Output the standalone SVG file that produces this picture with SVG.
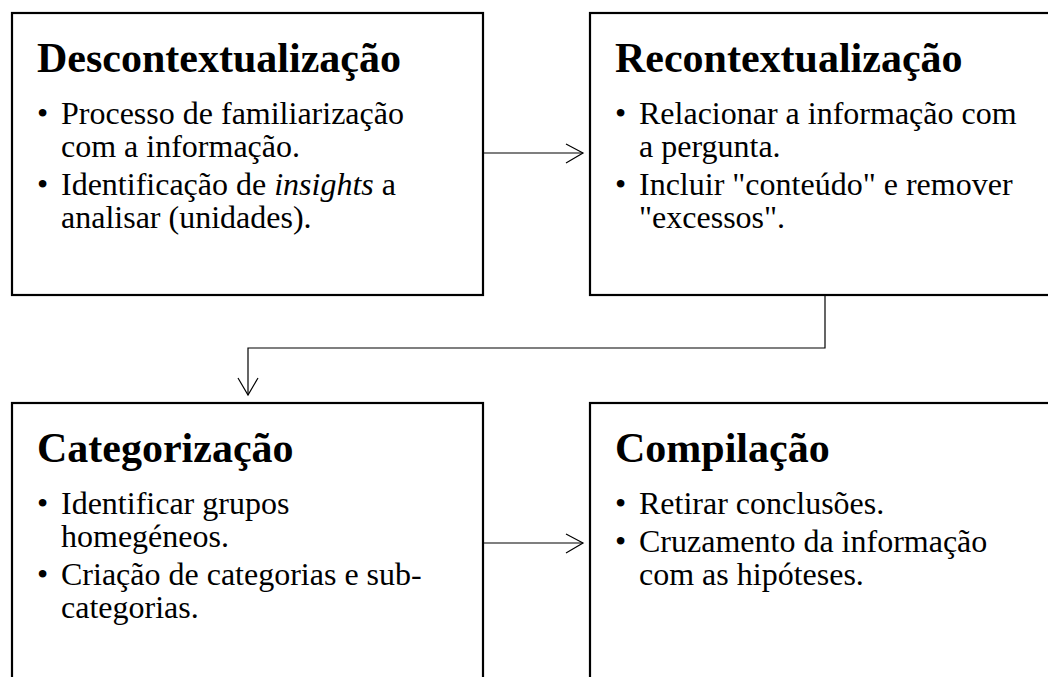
<svg xmlns="http://www.w3.org/2000/svg" width="1048" height="677" viewBox="0 0 1048 677">
<style>
.box{fill:#fff;stroke:#000;stroke-width:2.2}
.title{font-family:"Liberation Serif","Times New Roman",serif;font-weight:bold;font-size:42px;fill:#000}
.body{font-family:"Liberation Serif","Times New Roman",serif;font-size:32px;fill:#000}
.conn{fill:none;stroke:#000;stroke-width:1.2}
.head{fill:none;stroke:#000;stroke-width:1.2}
</style>
<rect width="1048" height="677" fill="#fff"/>
<g id="descontextualizacao">
<rect class="box" x="12" y="13" width="471" height="282"/>
<text class="title" x="37" y="72">Descontextualização</text>
<text class="body"><tspan x="37" y="124">•</tspan><tspan x="61" y="124">Processo de familiarização</tspan><tspan x="61" y="157">com a informação.</tspan><tspan x="37" y="195">•</tspan><tspan x="61" y="195">Identificação de <tspan font-style="italic">insights</tspan> a</tspan><tspan x="61" y="228">analisar (unidades).</tspan></text>
</g>
<g id="recontextualizacao">
<rect class="box" x="590" y="13" width="520" height="282"/>
<text class="title" x="615" y="72">Recontextualização</text>
<text class="body"><tspan x="615" y="124">•</tspan><tspan x="639" y="124">Relacionar a informação com</tspan><tspan x="639" y="157">a pergunta.</tspan><tspan x="615" y="195">•</tspan><tspan x="639" y="195">Incluir "conteúdo" e remover</tspan><tspan x="639" y="228">"excessos".</tspan></text>
</g>
<g id="categorizacao">
<rect class="box" x="12" y="403" width="471" height="300"/>
<text class="title" x="37" y="462">Categorização</text>
<text class="body"><tspan x="37" y="514">•</tspan><tspan x="61" y="514">Identificar grupos</tspan><tspan x="61" y="547">homegéneos.</tspan><tspan x="37" y="585">•</tspan><tspan x="61" y="585">Criação de categorias e sub-</tspan><tspan x="61" y="618">categorias.</tspan></text>
</g>
<g id="compilacao">
<rect class="box" x="590" y="403" width="520" height="300"/>
<text class="title" x="615" y="462">Compilação</text>
<text class="body"><tspan x="615" y="514">•</tspan><tspan x="639" y="514">Retirar conclusões.</tspan><tspan x="615" y="552">•</tspan><tspan x="639" y="552">Cruzamento da informação</tspan><tspan x="639" y="585">com as hipóteses.</tspan></text>
</g>
<g id="connectors">
<path class="conn" d="M483 153H583"/>
<path class="head" d="M566 144L583 153L566 163"/>
<path class="conn" d="M825 295V348H248V395"/>
<path class="head" d="M238 378L248 395L258 378"/>
<path class="conn" d="M483 543H583"/>
<path class="head" d="M566 534L583 543L566 553"/>
</g>
</svg>
